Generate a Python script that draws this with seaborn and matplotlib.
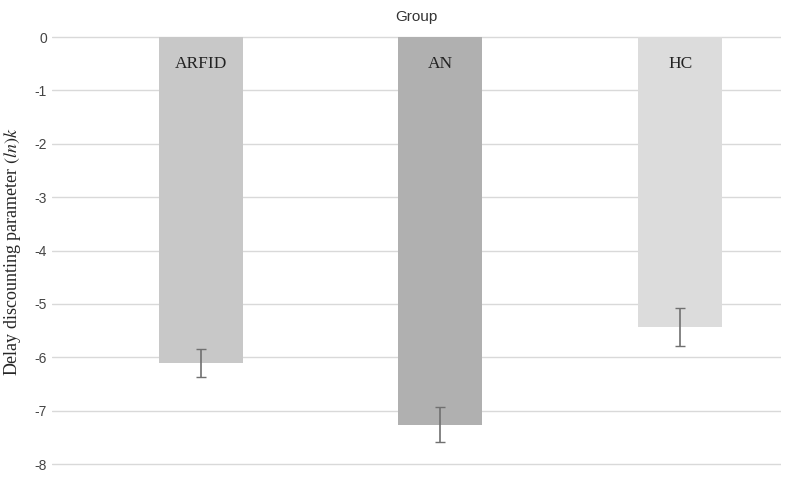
import seaborn as sns
import pandas as pd
from matplotlib import pyplot as plt

groups = ["ARFID", "AN", "HC"]
means = [-6.10, -7.26, -5.43]
errors = [0.26, 0.33, 0.35]
bar_colors = ["#c8c8c8", "#b0b0b0", "#dcdcdc"]
y_ticks = [0, -1, -2, -3, -4, -5, -6, -7, -8]

sns.set_style("white")
plt.rcParams["font.family"] = ["Liberation Sans", "DejaVu Sans"]
plt.rcParams["mathtext.fontset"] = "stix"

df = pd.DataFrame({"group": groups, "mean": means})

fig, ax = plt.subplots(figsize=(7.97, 4.78), dpi=100)
sns.barplot(data=df, x="group", y="mean", hue="group", palette=bar_colors,
            width=0.35, ax=ax, legend=False, linewidth=0, zorder=2)
ax.errorbar(range(len(groups)), means, yerr=errors, fmt="none",
            ecolor="#707070", elinewidth=1.2, capsize=3.5, zorder=3)

for i, g in enumerate(groups):
    ax.text(i, -0.5, g, ha="center", va="center", fontsize=12.5,
            family="Liberation Serif", color="#222222")

ax.set_xlim(-0.62, 2.42)
ax.set_ylim(-8.1, 0.05)
ax.set_yticks(y_ticks)
ax.set_yticklabels([str(t) for t in y_ticks], fontsize=10, color="#444444")
ax.yaxis.grid(True, color="#d9d9d9", linewidth=1, zorder=0)
ax.set_axisbelow(True)
ax.set_xticks([])
ax.set_xlabel("")
ax.set_ylabel(r"Delay discounting parameter $\mathit{(ln)k}$", fontsize=13,
              family="Liberation Serif", labelpad=8)
ax.set_title("Group", fontsize=11, color="#333333", pad=10)
ax.tick_params(axis="y", length=0)
sns.despine(ax=ax, left=True, bottom=True)

fig.subplots_adjust(left=0.065, right=0.98, top=0.928, bottom=0.018)
fig.savefig("out.png", dpi=100)
